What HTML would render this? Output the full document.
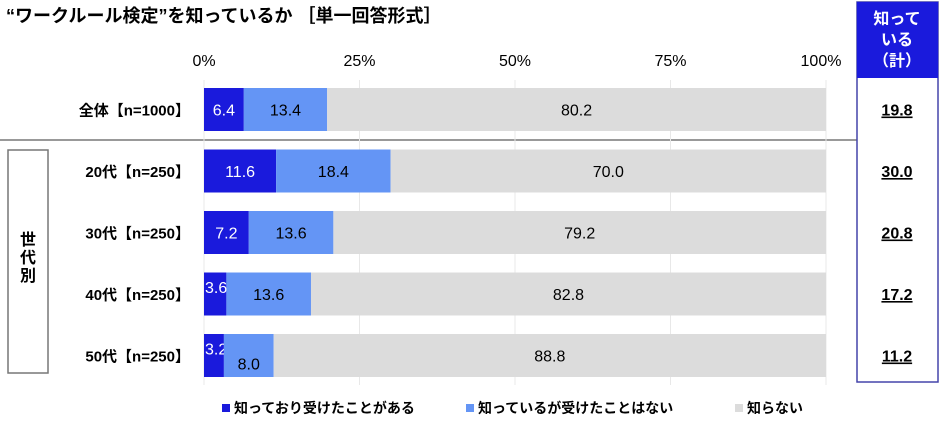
<!DOCTYPE html>
<html><head><meta charset="utf-8"><style>
body{margin:0;background:#fff;font-family:"Liberation Sans","Noto Sans CJK JP",sans-serif;}
svg text{font-family:"Liberation Sans","Noto Sans CJK JP",sans-serif;}
</style></head><body>
<svg id="c" width="940" height="432">
<text x="6" y="22" font-size="18" font-weight="bold" fill="#000">“ワークルール検定”を知っているか ［単一回答形式］</text>
<line x1="0" y1="140" x2="938" y2="140" stroke="#999" stroke-width="2"/>
<rect x="8" y="150" width="40" height="223" fill="#fff" stroke="#777" stroke-width="1.5"/>
<text x="28" y="245" font-size="16" font-weight="bold" text-anchor="middle"><tspan x="28">世</tspan><tspan x="28" dy="18">代</tspan><tspan x="28" dy="18">別</tspan></text>
<rect x="857" y="2" width="81" height="380" fill="#fff" stroke="#4444aa" stroke-width="1.5"/>
<rect x="857" y="2" width="81" height="76" fill="#1a1adc"/>
<text x="897" y="24" font-size="16" font-weight="bold" fill="#fff" text-anchor="middle"><tspan x="897">知って</tspan><tspan x="897" dy="21">いる</tspan><tspan x="897" dy="21">（計）</tspan></text>
<g id="g"></g>
</svg>
<script>
const categories=["全体【n=1000】","20代【n=250】","30代【n=250】","40代【n=250】","50代【n=250】"];
const s1=[6.4,11.6,7.2,3.6,3.2];
const s2=[13.4,18.4,13.6,13.6,8.0];
const s3=[80.2,70.0,79.2,82.8,88.8];
const totals=["19.8","30.0","20.8","17.2","11.2"];
const ticks=[0,25,50,75,100];
const seriesNames=["知っており受けたことがある","知っているが受けたことはない","知らない"];
const colors=["#1a1adc","#6495f5","#dcdcdc"];
const NS="http://www.w3.org/2000/svg";
const g=document.getElementById('g');
const X=v=>204+v*6.22;
const Y=i=>109.5+(i===0?0:61.5*i);
function el(t,a,txt){const e=document.createElementNS(NS,t);for(const k in a)e.setAttribute(k,a[k]);if(txt!==undefined)e.textContent=txt;g.appendChild(e);return e;}
ticks.forEach(t=>{
 const l=el('line',{x1:X(t),x2:X(t),y1:80,y2:385,stroke:'#e8e8e8'});
 
 
 const tx=el('text',{x:X(t)+(t===100?-5:0),y:66,'font-size':16,'text-anchor':'middle'},t+'%');
 
 
});
const series=[s1,s2,s3];
categories.forEach((c,i)=>{
 const yc=Y(i);
 const lab=el('text',{x:190,y:yc+6,'font-size':15,'font-weight':'bold','text-anchor':'end'},c);
 
 
 let acc=0;
 series.forEach((s,k)=>{
  const v=s[i];
  const r=el('rect',{x:X(acc),y:yc-21.5,width:X(acc+v)-X(acc),height:43,fill:colors[k]});
  
  
  let tx=(X(acc)+X(acc+v))/2, ty=yc+6;
  if(k===0&&v<5){tx=X(acc)+1;ty=yc-1;}
  if(k===1&&s1[i]<5&&v<10){ty=yc+14;}
  const t=el('text',{x:tx,y:ty,'font-size':16,'text-anchor':(k===0&&v<5)?'start':'middle',fill:k===0?'#fff':'#000'},v.toFixed(1));
  
  
  acc+=v;
 });
 const tt=el('text',{x:897,y:yc+6,'font-size':16,'font-weight':'bold','text-anchor':'middle','text-decoration':'underline'},totals[i]);
 
 
});
const lx=[222,466,735];
seriesNames.forEach((n,k)=>{
 const r=el('rect',{x:lx[k],y:404,width:8,height:8,fill:colors[k]});
 
 
 const t=el('text',{x:lx[k]+12,y:413,'font-size':14,'font-weight':'bold'},n);
 
 
});
</script>
</body></html>
